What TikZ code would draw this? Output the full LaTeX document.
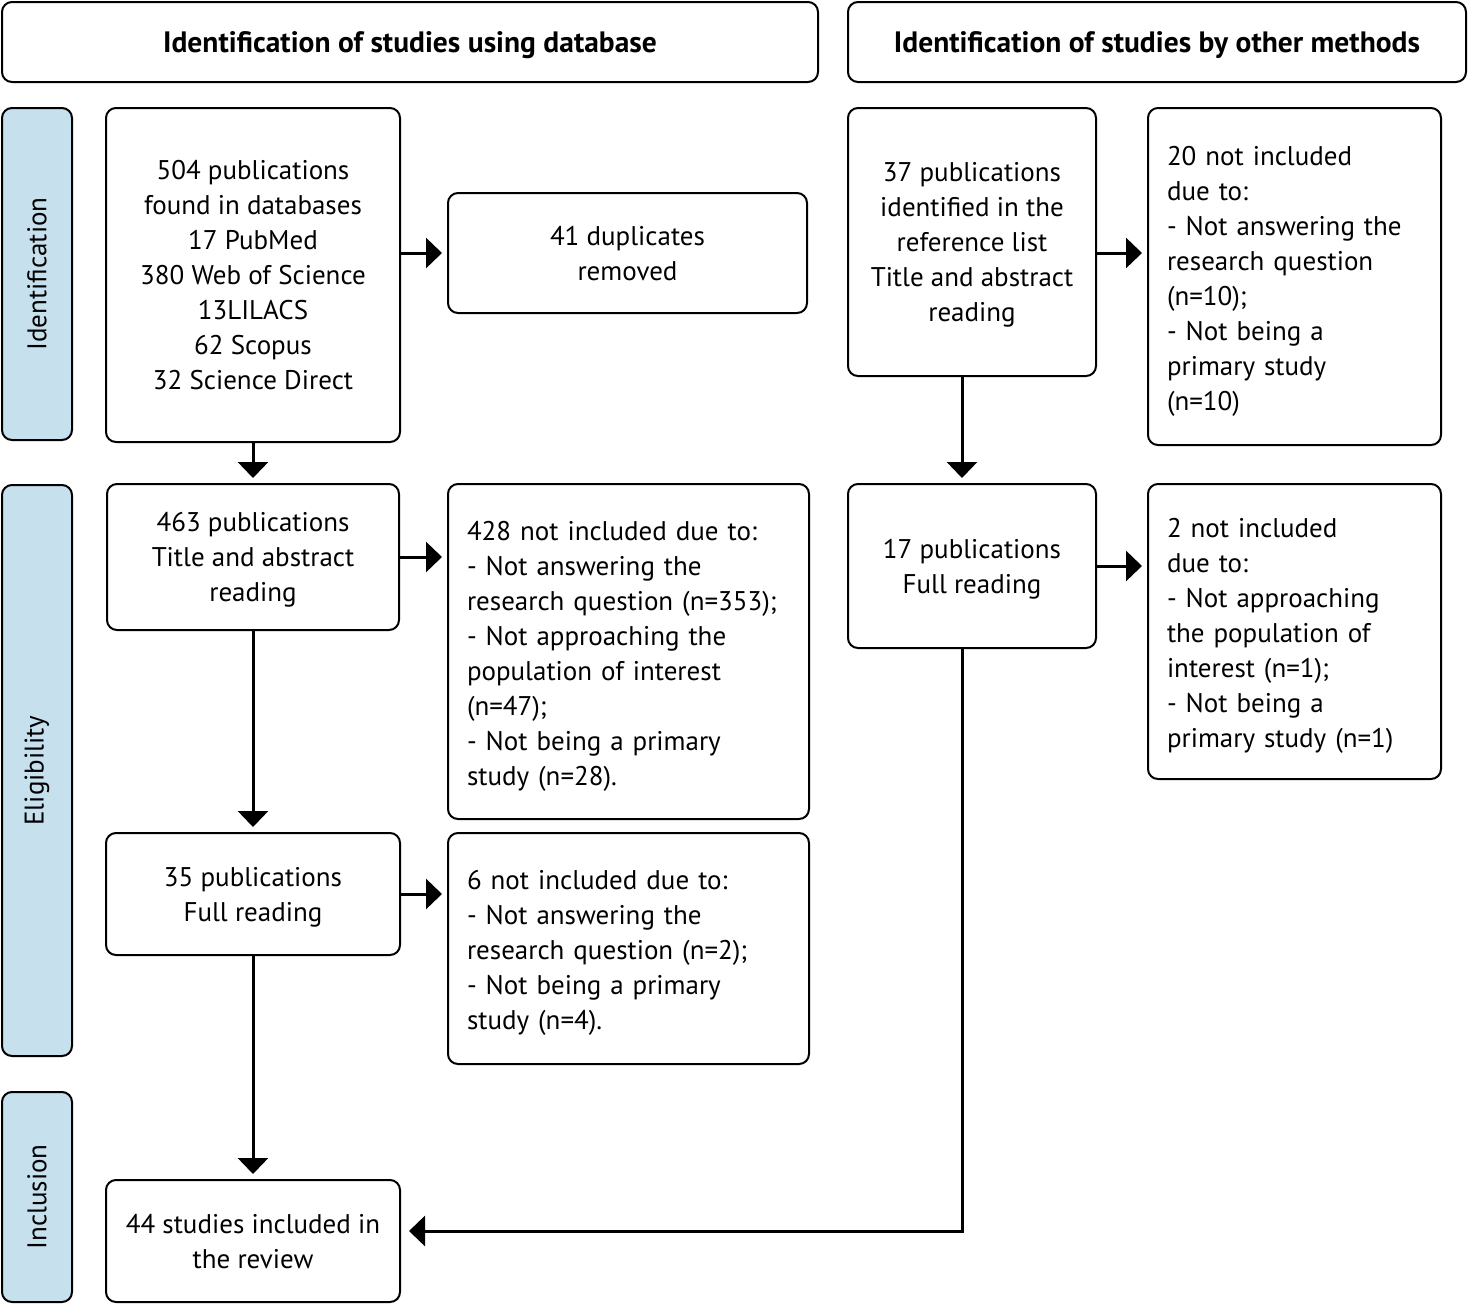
\documentclass[tikz,border=0pt]{standalone}
\usepackage{fontspec}
\setmainfont{PT Sans}
\usetikzlibrary{arrows.meta,calc}
\definecolor{sideblue}{RGB}{198,224,238}
\newcommand{\firststrut}{\rule{0pt}{28pt}}
\begin{document}
\begin{tikzpicture}[x=1pt,y=-1pt,
  every node/.style={font=\fontsize{27}{35}\selectfont},
  box/.style={draw=black,line width=2pt,rounded corners=10pt,fill=white,inner sep=0pt,align=center,text depth=0pt},
  lbox/.style={draw=black,line width=2pt,rounded corners=10pt,fill=white,inner xsep=19pt,inner ysep=0pt,align=left},
  side/.style={draw=black,line width=2pt,rounded corners=10pt,fill=sideblue,inner sep=0pt},
  head/.style={draw=black,line width=2pt,rounded corners=10pt,fill=white,inner sep=0pt,text depth=0pt,font=\fontsize{29.5}{35}\selectfont\bfseries},
  arr/.style={line width=3pt,-{Triangle[length=16pt,width=30pt]},shorten >=5pt}
]
\useasboundingbox (0,0) rectangle (1468,1304);
% headers
\node[head,minimum width=816pt,minimum height=80pt] (h1) at (410,42) {Identification of studies using database};
\node[head,minimum width=618pt,minimum height=80pt] (h2) at (1157,42) {Identification of studies by other methods};
% side labels
\node[side,minimum width=70pt,minimum height=332pt] (s1) at (37,274) {};
\node[rotate=90] (t1) at (37,274) {Identification};
\node[side,minimum width=70pt,minimum height=571pt] (s2) at (37,770.5) {};
\node[rotate=90] (t2) at (37,770.5) {Eligibility};
\node[side,minimum width=70pt,minimum height=210pt] (s3) at (37,1197) {};
\node[rotate=90] (t3) at (37,1197) {Inclusion};
% left column
\node[box,minimum width=294pt,minimum height=334pt] (A) at (253,275) {504 publications\\found in databases\\17 PubMed\\380 Web of Science\\13LILACS\\62 Scopus\\32 Science Direct};
\node[box,minimum width=359pt,minimum height=120pt] (B) at (627.5,253) {41 duplicates\\removed};
\node[box,minimum width=292pt,minimum height=146pt] (C) at (253,557) {463 publications\\Title and abstract\\reading};
\node[lbox,text width=323pt,minimum height=335pt] (D) at (628.5,651.5) {\firststrut428 not included due to:\\- Not answering the\\research question (n=353);\\- Not approaching the\\population of interest\\(n=47);\\- Not being a primary\\study (n=28).};
\node[box,minimum width=294pt,minimum height=122pt] (E) at (253,894) {35 publications\\Full reading};
\node[lbox,text width=323pt,minimum height=231pt] (F) at (628.5,948.5) {\firststrut6 not included due to:\\- Not answering the\\research question (n=2);\\- Not being a primary\\study (n=4).};
\node[box,minimum width=294pt,minimum height=122pt] (G) at (253,1241) {44 studies included in\\the review};
% right column
\node[box,minimum width=248pt,minimum height=268pt] (H) at (972,242) {37 publications\\identified in the\\reference list\\Title and abstract\\reading};
\node[lbox,text width=255pt,minimum height=337pt] (I) at (1294.5,276.5) {\firststrut20 not included\\due to:\\- Not answering the\\research question\\(n=10);\\- Not being a\\primary study\\(n=10)};
\node[box,minimum width=248pt,minimum height=164pt] (J) at (972,566) {17 publications\\Full reading};
\node[lbox,text width=255pt,minimum height=295pt] (K) at (1294.5,631.5) {\firststrut2 not included\\due to:\\- Not approaching\\the population of\\interest (n=1);\\- Not being a\\primary study (n=1)};
% connectors
\draw[arr] (A.east |- B.west) -- (B.west);
\draw[arr] (A.south) -- (C.north);
\draw[arr] (C.east) -- (C.east -| D.west);
\draw[arr] (C.south) -- (E.north);
\draw[arr] (E.east) -- (E.east -| F.west);
\draw[arr] (E.south) -- (G.north);
\draw[arr] ([yshift=-11pt]H.east) -- ([yshift=-11pt]H.east -| I.west);
\draw[arr] ([xshift=-10pt]H.south) -- ([xshift=-10pt]H.south |- J.north);
\draw[arr] (J.east) -- (J.east -| K.west);
\coordinate (bend) at ([xshift=-10pt]J.south |- 0,1231);
\draw[arr,shorten >=8pt] ([xshift=-10pt]J.south) -- (bend) -- (bend -| G.east);
\end{tikzpicture}
\end{document}
